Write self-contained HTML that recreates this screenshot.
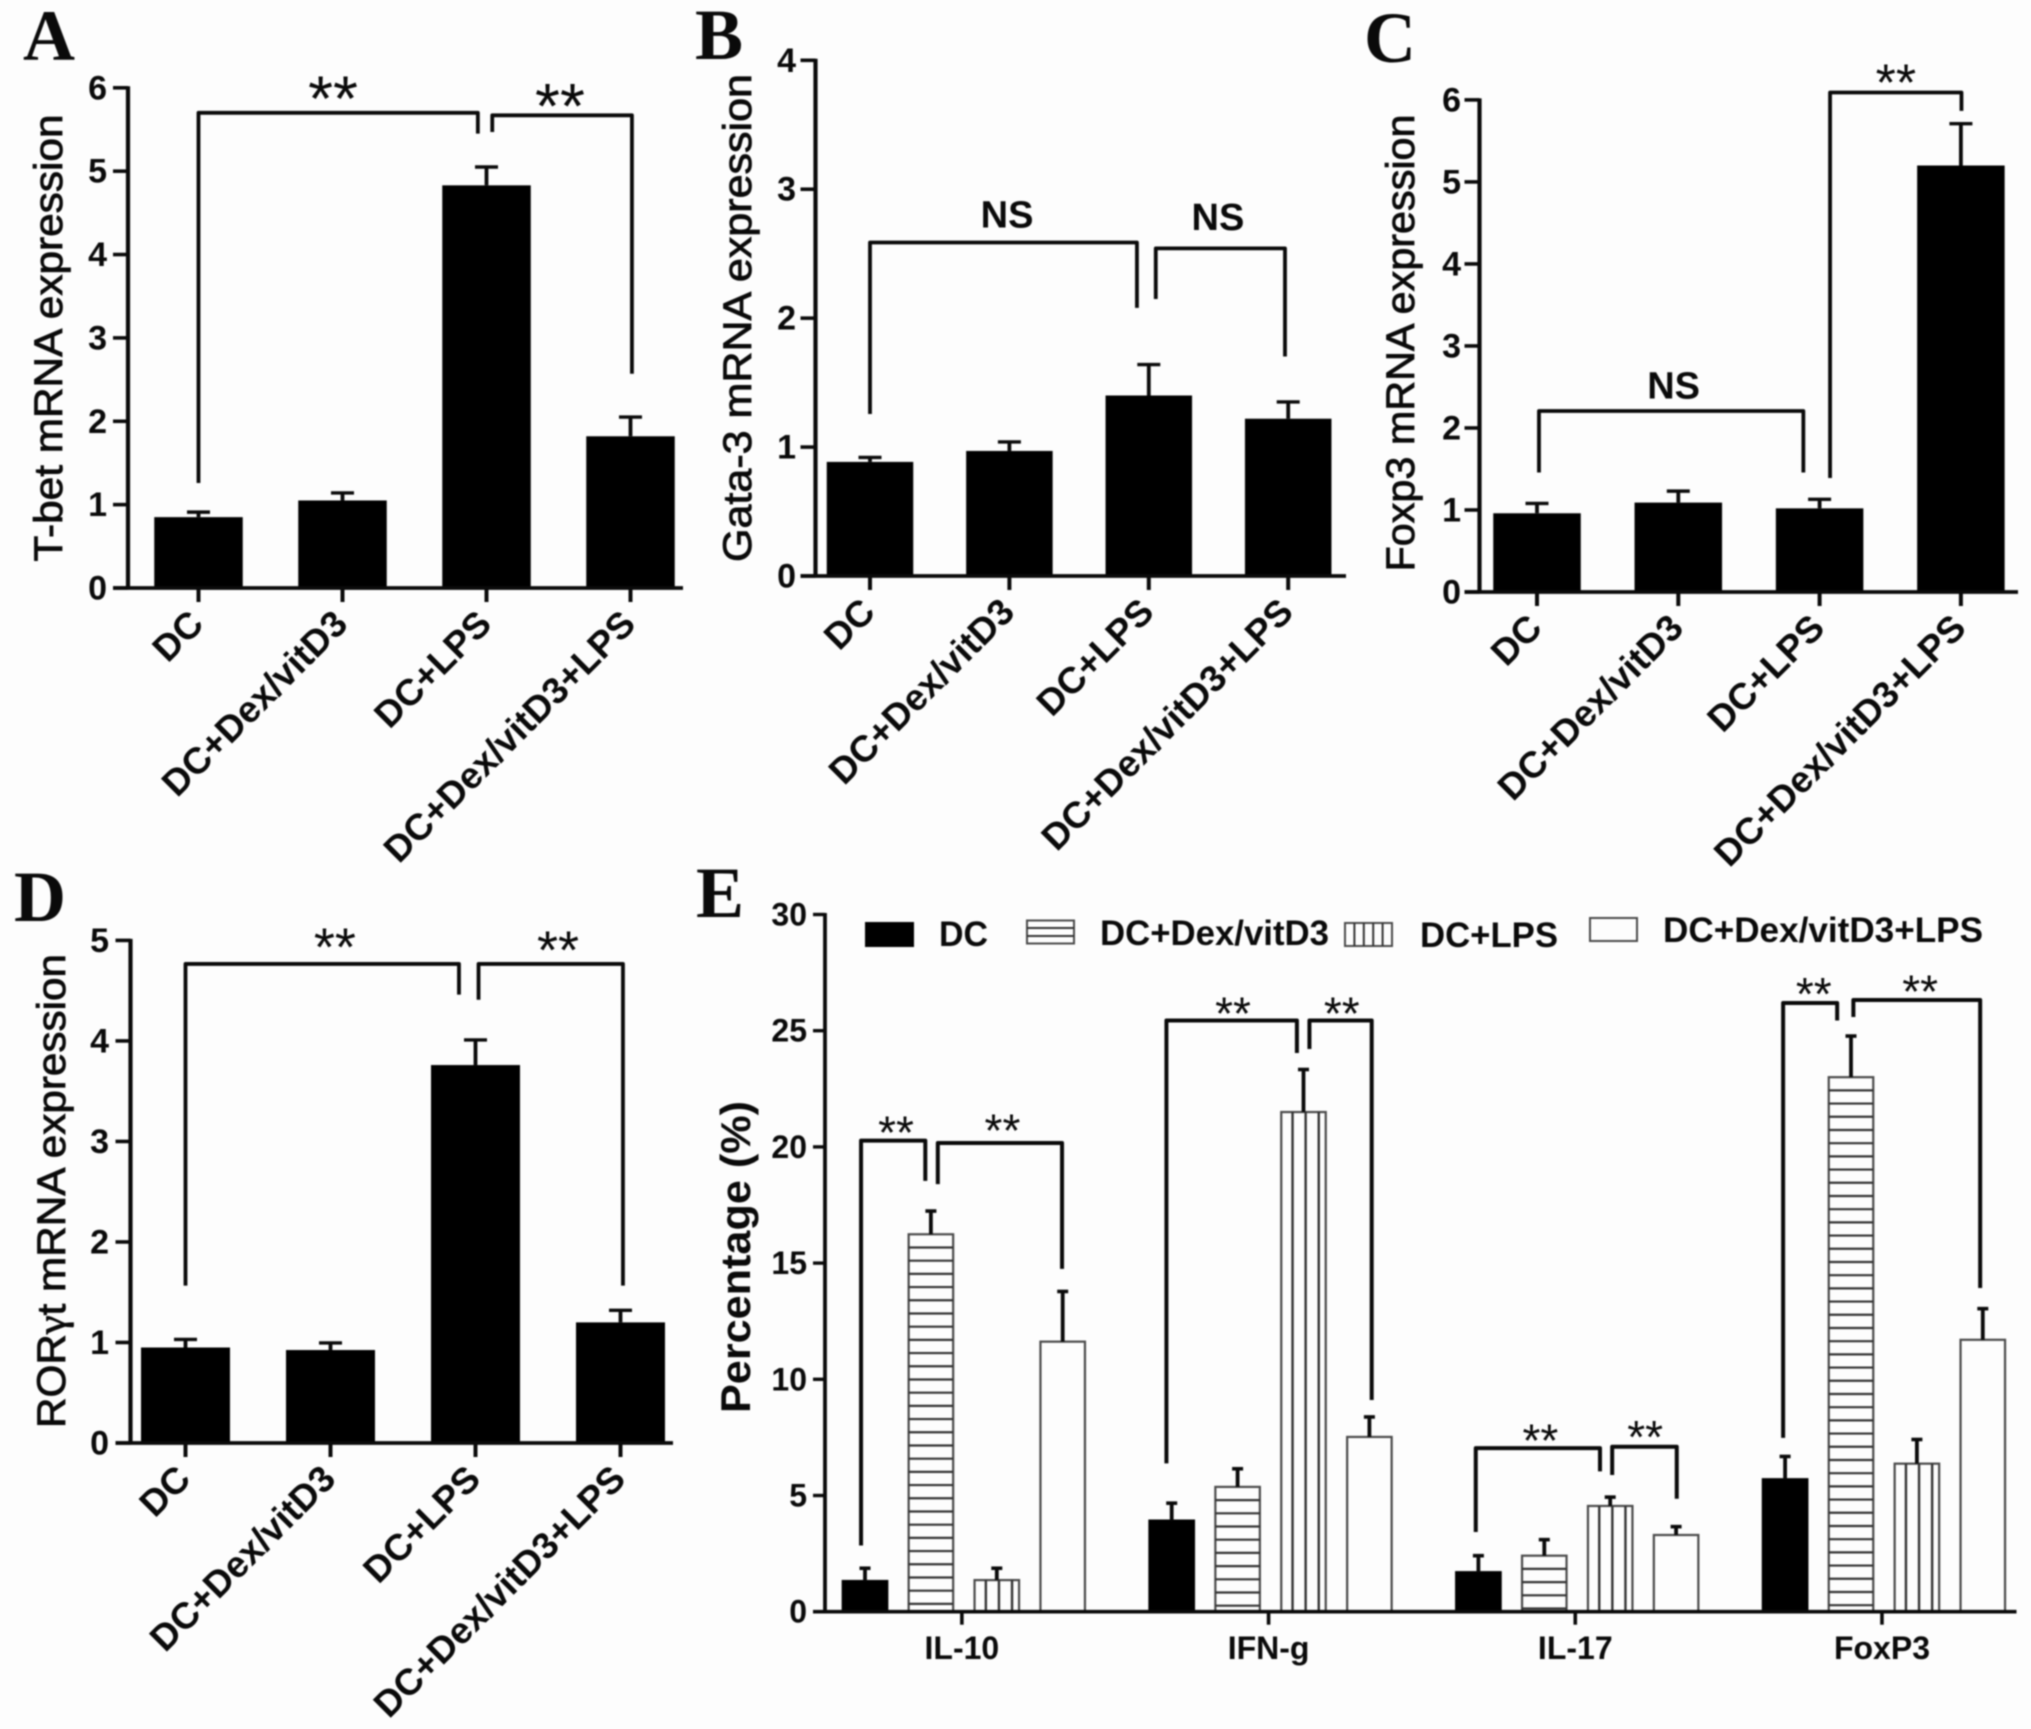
<!DOCTYPE html>
<html lang="en">
<head>
<meta charset="utf-8">
<title>Transcription factor mRNA expression and cytokine percentages</title>
<style>
html,body{margin:0;padding:0;background:#fdfdfd;}
svg{display:block;filter:blur(0.7px);}
text{font-family:"Liberation Sans",sans-serif;fill:#0a0a0a;}
.letter{font-family:"Liberation Serif",serif;font-weight:bold;font-size:72px;}
.tick{font-weight:bold;font-size:34px;}
.tick-e{font-weight:bold;font-size:32px;}
.ylab{font-size:40px;stroke:#0a0a0a;stroke-width:0.8px;}
.xlab{font-size:37px;font-weight:bold;}
.sig{font-weight:normal;}
.sig-ns{font-weight:bold;}
</style>
</head>
<body>
<svg id="figure" xmlns="http://www.w3.org/2000/svg" width="2031" height="1729" viewBox="0 0 2031 1729"></svg>
<script>
const categories = ['DC', 'DC+Dex/vitD3', 'DC+LPS', 'DC+Dex/vitD3+LPS'];

const tbetValues = [0.85, 1.05, 4.83, 1.82];
const tbetErrorTops = [0.91, 1.14, 5.05, 2.05];
const tbetTicks = [0, 1, 2, 3, 4, 5, 6];

const gata3Values = [0.885, 0.97, 1.40, 1.22];
const gata3ErrorTops = [0.92, 1.04, 1.64, 1.35];
const gata3Ticks = [0, 1, 2, 3, 4];

const foxp3Values = [0.96, 1.09, 1.02, 5.2];
const foxp3ErrorTops = [1.08, 1.23, 1.13, 5.71];
const foxp3Ticks = [0, 1, 2, 3, 4, 5, 6];

const rorValues = [0.95, 0.925, 3.76, 1.2];
const rorErrorTops = [1.03, 0.995, 4.01, 1.32];
const rorTicks = [0, 1, 2, 3, 4, 5];

const cytokineGroups = ['IL-10', 'IFN-g', 'IL-17', 'FoxP3'];
const cytokineSeries = ['DC', 'DC+Dex/vitD3', 'DC+LPS', 'DC+Dex/vitD3+LPS'];
const dcPercent = [1.32, 3.92, 1.70, 5.70];
const dcPercentTops = [1.87, 4.67, 2.41, 6.68];
const dexPercent = [16.24, 5.37, 2.41, 23.0];
const dexPercentTops = [17.24, 6.15, 3.10, 24.77];
const lpsPercent = [1.36, 21.5, 4.55, 6.37];
const lpsPercentTops = [1.87, 23.33, 4.93, 7.41];
const dexLpsPercent = [11.62, 7.52, 3.30, 11.70];
const dexLpsPercentTops = [13.78, 8.38, 3.66, 13.04];
const percentTicks = [0, 5, 10, 15, 20, 25, 30];

const svg = document.getElementById('figure');
const NS = 'http://www.w3.org/2000/svg';
const INK = '#0a0a0a';

function make(tag, name, attrs, parent) {
  const node = document.createElementNS(NS, tag);
  
  
  for (const key in attrs) node.setAttribute(key, attrs[key]);
  (parent || svg).appendChild(node);
  return node;
}
function label(name, str, attrs, parent) {
  const node = make('text', name, attrs, parent);
  node.textContent = str;
  return node;
}
function segment(name, x1, y1, x2, y2, width, parent, color) {
  return make('line', name, {x1: x1, y1: y1, x2: x2, y2: y2, stroke: color || INK, 'stroke-width': width}, parent);
}

/* Significance bracket: x in category slots, y in value units, both through the panel's axes. */
function bracket(p, xa, ya, xb, yb, top, text, size, tx, ty) {
  const g = make('g', 'significance-bracket', {}, p.group);
  const d = 'M' + p.x(xa) + ' ' + p.y(ya) + 'V' + p.y(top) + 'H' + p.x(xb) + 'V' + p.y(yb);
  make('path', 'bracket-line', {d: d, fill: 'none', stroke: INK, 'stroke-width': p.bracketWidth, 'stroke-linejoin': 'round'}, g);
  const isStars = text === '**';
  const baseline = p.y(ty) + (isStars ? 0.47 * size : 0.36 * size);
  label('significance-label', text, {class: isStars ? 'sig' : 'sig-ns', x: p.x(tx), y: baseline, 'text-anchor': 'middle', 'font-size': size}, g);
}

/* Panels A–D: single black bar series */
function drawBarPanel(cfg, values, tops, ticks, cats) {
  const group = make('g', cfg.name, {});
  const unit = (cfg.y0 - cfg.yTop) / ticks[ticks.length - 1];
  const p = {
    group: group,
    bracketWidth: 3.8,
    x: function (i) { return cfg.x0 + i * cfg.step; },
    y: function (v) { return cfg.y0 - v * unit; }
  };
  label('panel-letter', cfg.letter, {class: 'letter', x: cfg.letterX, y: cfg.letterY}, group);
  const ylab = make('text', 'y-axis-title', {
    class: 'ylab', 'text-anchor': 'middle',
    transform: 'translate(' + cfg.titleX + ' ' + cfg.titleY + ') rotate(-90)',
    textLength: cfg.titleLen, lengthAdjust: 'spacingAndGlyphs'
  }, group);
  ylab.appendChild(document.createTextNode(cfg.titleStart));
  if (cfg.gamma) {
    const greek = make('tspan', 'gamma-symbol', {style: 'font-family:"Liberation Serif",serif'}, ylab);
    greek.textContent = cfg.gamma;
    ylab.appendChild(document.createTextNode(cfg.titleEnd));
  }
  cats.forEach(function (c, i) {
    const cx = p.x(i);
    make('rect', 'bar', {x: cx - cfg.barW / 2, y: p.y(values[i]), width: cfg.barW, height: cfg.y0 - p.y(values[i]), fill: '#000'}, group);
    segment('error-bar-stem', cx, p.y(values[i]), cx, p.y(tops[i]), 3.8, group);
    segment('error-bar-cap', cx - 11.5, p.y(tops[i]), cx + 11.5, p.y(tops[i]), 3.4, group);
    segment('x-tick', cx, cfg.y0, cx, cfg.y0 + 14, 4, group);
    label('x-tick-label', c, {
      class: 'xlab', 'text-anchor': 'end',
      transform: 'translate(' + (cx + 7) + ' ' + (cfg.y0 + 38) + ') rotate(-45)'
    }, group);
  });
  segment('y-axis-line', cfg.axisX, cfg.yTop - 1.5, cfg.axisX, cfg.y0 + 1.5, 4.2, group);
  segment('x-axis-line', cfg.axisX - 15, cfg.y0, cfg.xEnd, cfg.y0, 3.8, group);
  ticks.forEach(function (t) {
    segment('y-tick', cfg.axisX - 15, p.y(t), cfg.axisX, p.y(t), 3.6, group);
    label('y-tick-label', String(t), {class: 'tick', x: cfg.tickRight, y: p.y(t) + 11.5, 'text-anchor': 'end'}, group);
  });
  return p;
}

const pA = drawBarPanel({
  name: 'panel-a', letter: 'A', letterX: 23, letterY: 60,
  titleStart: 'T-bet mRNA expression', titleX: 62, titleY: 338, titleLen: 447,
  x0: 198.5, step: 144, barW: 88.5, y0: 588, yTop: 87.8, axisX: 128, xEnd: 683, tickRight: 107
}, tbetValues, tbetErrorTops, tbetTicks, categories);
bracket(pA, 0, 1.26, 1.94, 5.45, 5.70, '**', 64, 0.934, 5.97);
bracket(pA, 2.04, 5.47, 3.01, 2.57, 5.67, '**', 64, 2.51, 5.88);

const pB = drawBarPanel({
  name: 'panel-b', letter: 'B', letterX: 695, letterY: 59,
  titleStart: 'Gata-3 mRNA expression', titleX: 751, titleY: 318, titleLen: 488,
  x0: 870, step: 139.4, barW: 86.5, y0: 576, yTop: 60.3, axisX: 815.5, xEnd: 1346, tickRight: 796
}, gata3Values, gata3ErrorTops, gata3Ticks, categories);
bracket(pB, 0, 1.257, 1.915, 2.08, 2.587, 'NS', 38, 0.983, 2.81);
bracket(pB, 2.05, 2.149, 2.977, 1.703, 2.541, 'NS', 38, 2.496, 2.79);

const pC = drawBarPanel({
  name: 'panel-c', letter: 'C', letterX: 1364, letterY: 62,
  titleStart: 'Foxp3 mRNA expression', titleX: 1414, titleY: 343, titleLen: 457,
  x0: 1537, step: 141.3, barW: 87.5, y0: 592, yTop: 99.9, axisX: 1479.5, xEnd: 2018, tickRight: 1461
}, foxp3Values, foxp3ErrorTops, foxp3Ticks, categories);
bracket(pC, 0.014, 1.457, 1.885, 1.457, 2.207, 'NS', 38, 0.967, 2.524);
bracket(pC, 2.074, 1.39, 3.004, 5.866, 6.09, '**', 52, 2.54, 6.29);

const pD = drawBarPanel({
  name: 'panel-d', letter: 'D', letterX: 14, letterY: 921,
  titleStart: 'ROR', gamma: '\u03B3', titleEnd: 't mRNA expression', titleX: 65, titleY: 1191, titleLen: 474,
  x0: 185.5, step: 145, barW: 89, y0: 1443, yTop: 940.4, axisX: 130.5, xEnd: 673, tickRight: 109
}, rorValues, rorErrorTops, rorTicks, categories);
bracket(pD, 0, 1.565, 1.886, 4.46, 4.766, '**', 54, 1.03, 5.005);
bracket(pD, 2.021, 4.41, 3.017, 1.565, 4.766, '**', 54, 2.569, 4.975);

/* Panel E: grouped bars with fill styles */
const panelE = make('g', 'panel-e', {});
const eY0 = 1611.7;
const eUnit = (eY0 - 914.5) / percentTicks[percentTicks.length - 1];
const eAxisX = 825;
function yE(v) { return eY0 - v * eUnit; }
function xE(group, slot) { return 865 + 306.7 * group + 65.9 * slot; }
const eBarW = 44.5;

function hatchBar(kind, x, y, w, h, parent) {
  const g = make('g', 'bar-' + kind, {}, parent);
  make('rect', 'bar-fill', {x: x, y: y, width: w, height: h, fill: kind === 'solid' ? '#000' : '#fdfdfd', stroke: kind === 'solid' ? '#000' : '#4a4a4a', 'stroke-width': 2.2}, g);
  if (kind === 'hlines') {
    for (let ly = y + 13.2; ly < y + h - 3; ly += 13.2) {
      segment('hatch-line', x, ly, x + w, ly, 2.2, g, '#333');
    }
  }
  if (kind === 'vlines') {
    for (let lx = x + 11.3; lx < x + w - 3; lx += 13.1) {
      segment('hatch-line', lx, y, lx, y + h, 2.4, g, '#333');
    }
  }
  return g;
}

const eValueSets = [dcPercent, dexPercent, lpsPercent, dexLpsPercent];
const eTopSets = [dcPercentTops, dexPercentTops, lpsPercentTops, dexLpsPercentTops];
const eKinds = ['solid', 'hlines', 'vlines', 'plain'];

label('panel-letter', 'E', {class: 'letter', x: 696, y: 917}, panelE);
label('y-axis-title', 'Percentage (%)', {
  'font-size': 42, 'font-weight': 'bold', 'text-anchor': 'middle',
  transform: 'translate(750 1257) rotate(-90)', textLength: 312, lengthAdjust: 'spacingAndGlyphs'
}, panelE);

cytokineGroups.forEach(function (name, g) {
  eValueSets.forEach(function (vals, s) {
    const cx = xE(g, s);
    hatchBar(eKinds[s], cx - eBarW / 2, yE(vals[g]), eBarW, eY0 - yE(vals[g]), panelE);
    segment('error-bar-stem', cx, yE(vals[g]), cx, yE(eTopSets[s][g]), 3.8, panelE);
    segment('error-bar-cap', cx - 5.5, yE(eTopSets[s][g]), cx + 5.5, yE(eTopSets[s][g]), 3.6, panelE);
  });
  const tx = xE(g, 1.47);
  segment('x-tick', tx, eY0, tx, eY0 + 13, 3.6, panelE);
  label('x-tick-label', name, {class: 'tick-e', x: tx, y: 1659, 'text-anchor': 'middle'}, panelE);
});

segment('y-axis-line', eAxisX, 913, eAxisX, eY0 + 1.5, 3.8, panelE);
segment('x-axis-line', eAxisX - 12, eY0, 2016.5, eY0, 3.6, panelE);
percentTicks.forEach(function (t) {
  segment('y-tick', eAxisX - 12, yE(t), eAxisX, yE(t), 3.4, panelE);
  label('y-tick-label', String(t), {class: 'tick-e', x: 807, y: yE(t) + 11, 'text-anchor': 'end'}, panelE);
});

function eBracket(g, sa, ya, sb, yb, top, tsl, ty) {
  const p = {group: panelE, bracketWidth: 4, y: yE, x: function (s) { return xE(g, s); }};
  bracket(p, sa, ya, sb, yb, top, '**', 46, tsl, ty);
}
eBracket(0, -0.06, 2.85, 0.915, 18.54, 20.27, 0.47, 20.86);
eBracket(0, 1.105, 18.4, 2.99, 14.75, 20.17, 2.086, 20.95);
eBracket(1, -0.08, 6.38, 1.90, 24.04, 25.44, 0.93, 25.98);
eBracket(1, 2.09, 24.21, 3.035, 9.11, 25.44, 2.58, 25.98);
eBracket(2, -0.04, 3.43, 1.845, 6.04, 7.04, 0.94, 7.60);
eBracket(2, 2.03, 5.88, 3.01, 4.86, 7.10, 2.53, 7.75);
eBracket(3, -0.03, 7.48, 0.79, 25.44, 26.19, 0.435, 26.82);
eBracket(3, 1.036, 25.59, 2.96, 13.93, 26.32, 2.05, 26.92);

/* Legend */
const legend = make('g', 'legend', {}, panelE);
const legendKinds = ['solid', 'hlines', 'vlines', 'plain'];
const legendBoxLeft = [866, 1027, 1345, 1590];
const legendBoxTop = [923, 920.5, 923, 918];
const legendTextLeft = [939, 1100, 1420, 1663];
const legendBaseline = [946, 945, 947, 942];
const legendTextWidth = [49, 229, 138, 320];
cytokineSeries.forEach(function (name, i) {
  const entry = make('g', 'legend-entry', {}, legend);
  const bx = legendBoxLeft[i], by = legendBoxTop[i], bw = 47, bh = 23;
  make('rect', 'legend-swatch', {x: bx, y: by, width: bw, height: bh, fill: i === 0 ? '#000' : '#fdfdfd', stroke: i === 0 ? '#000' : '#4a4a4a', 'stroke-width': 2}, entry);
  if (legendKinds[i] === 'hlines') {
    segment('legend-hatch', bx, by + 7.5, bx + bw, by + 7.5, 2, entry, '#333');
    segment('legend-hatch', bx, by + 15.5, bx + bw, by + 15.5, 2, entry, '#333');
  }
  if (legendKinds[i] === 'vlines') {
    for (let k = 1; k < 5; k++) {
      segment('legend-hatch', bx + k * 9.4, by, bx + k * 9.4, by + bh, 2, entry, '#333');
    }
  }
  label('legend-label', name, {
    x: legendTextLeft[i], y: legendBaseline[i], 'font-size': 35, 'font-weight': 'bold',
    textLength: legendTextWidth[i], lengthAdjust: 'spacingAndGlyphs'
  }, entry);
});
</script>
</body>
</html>
